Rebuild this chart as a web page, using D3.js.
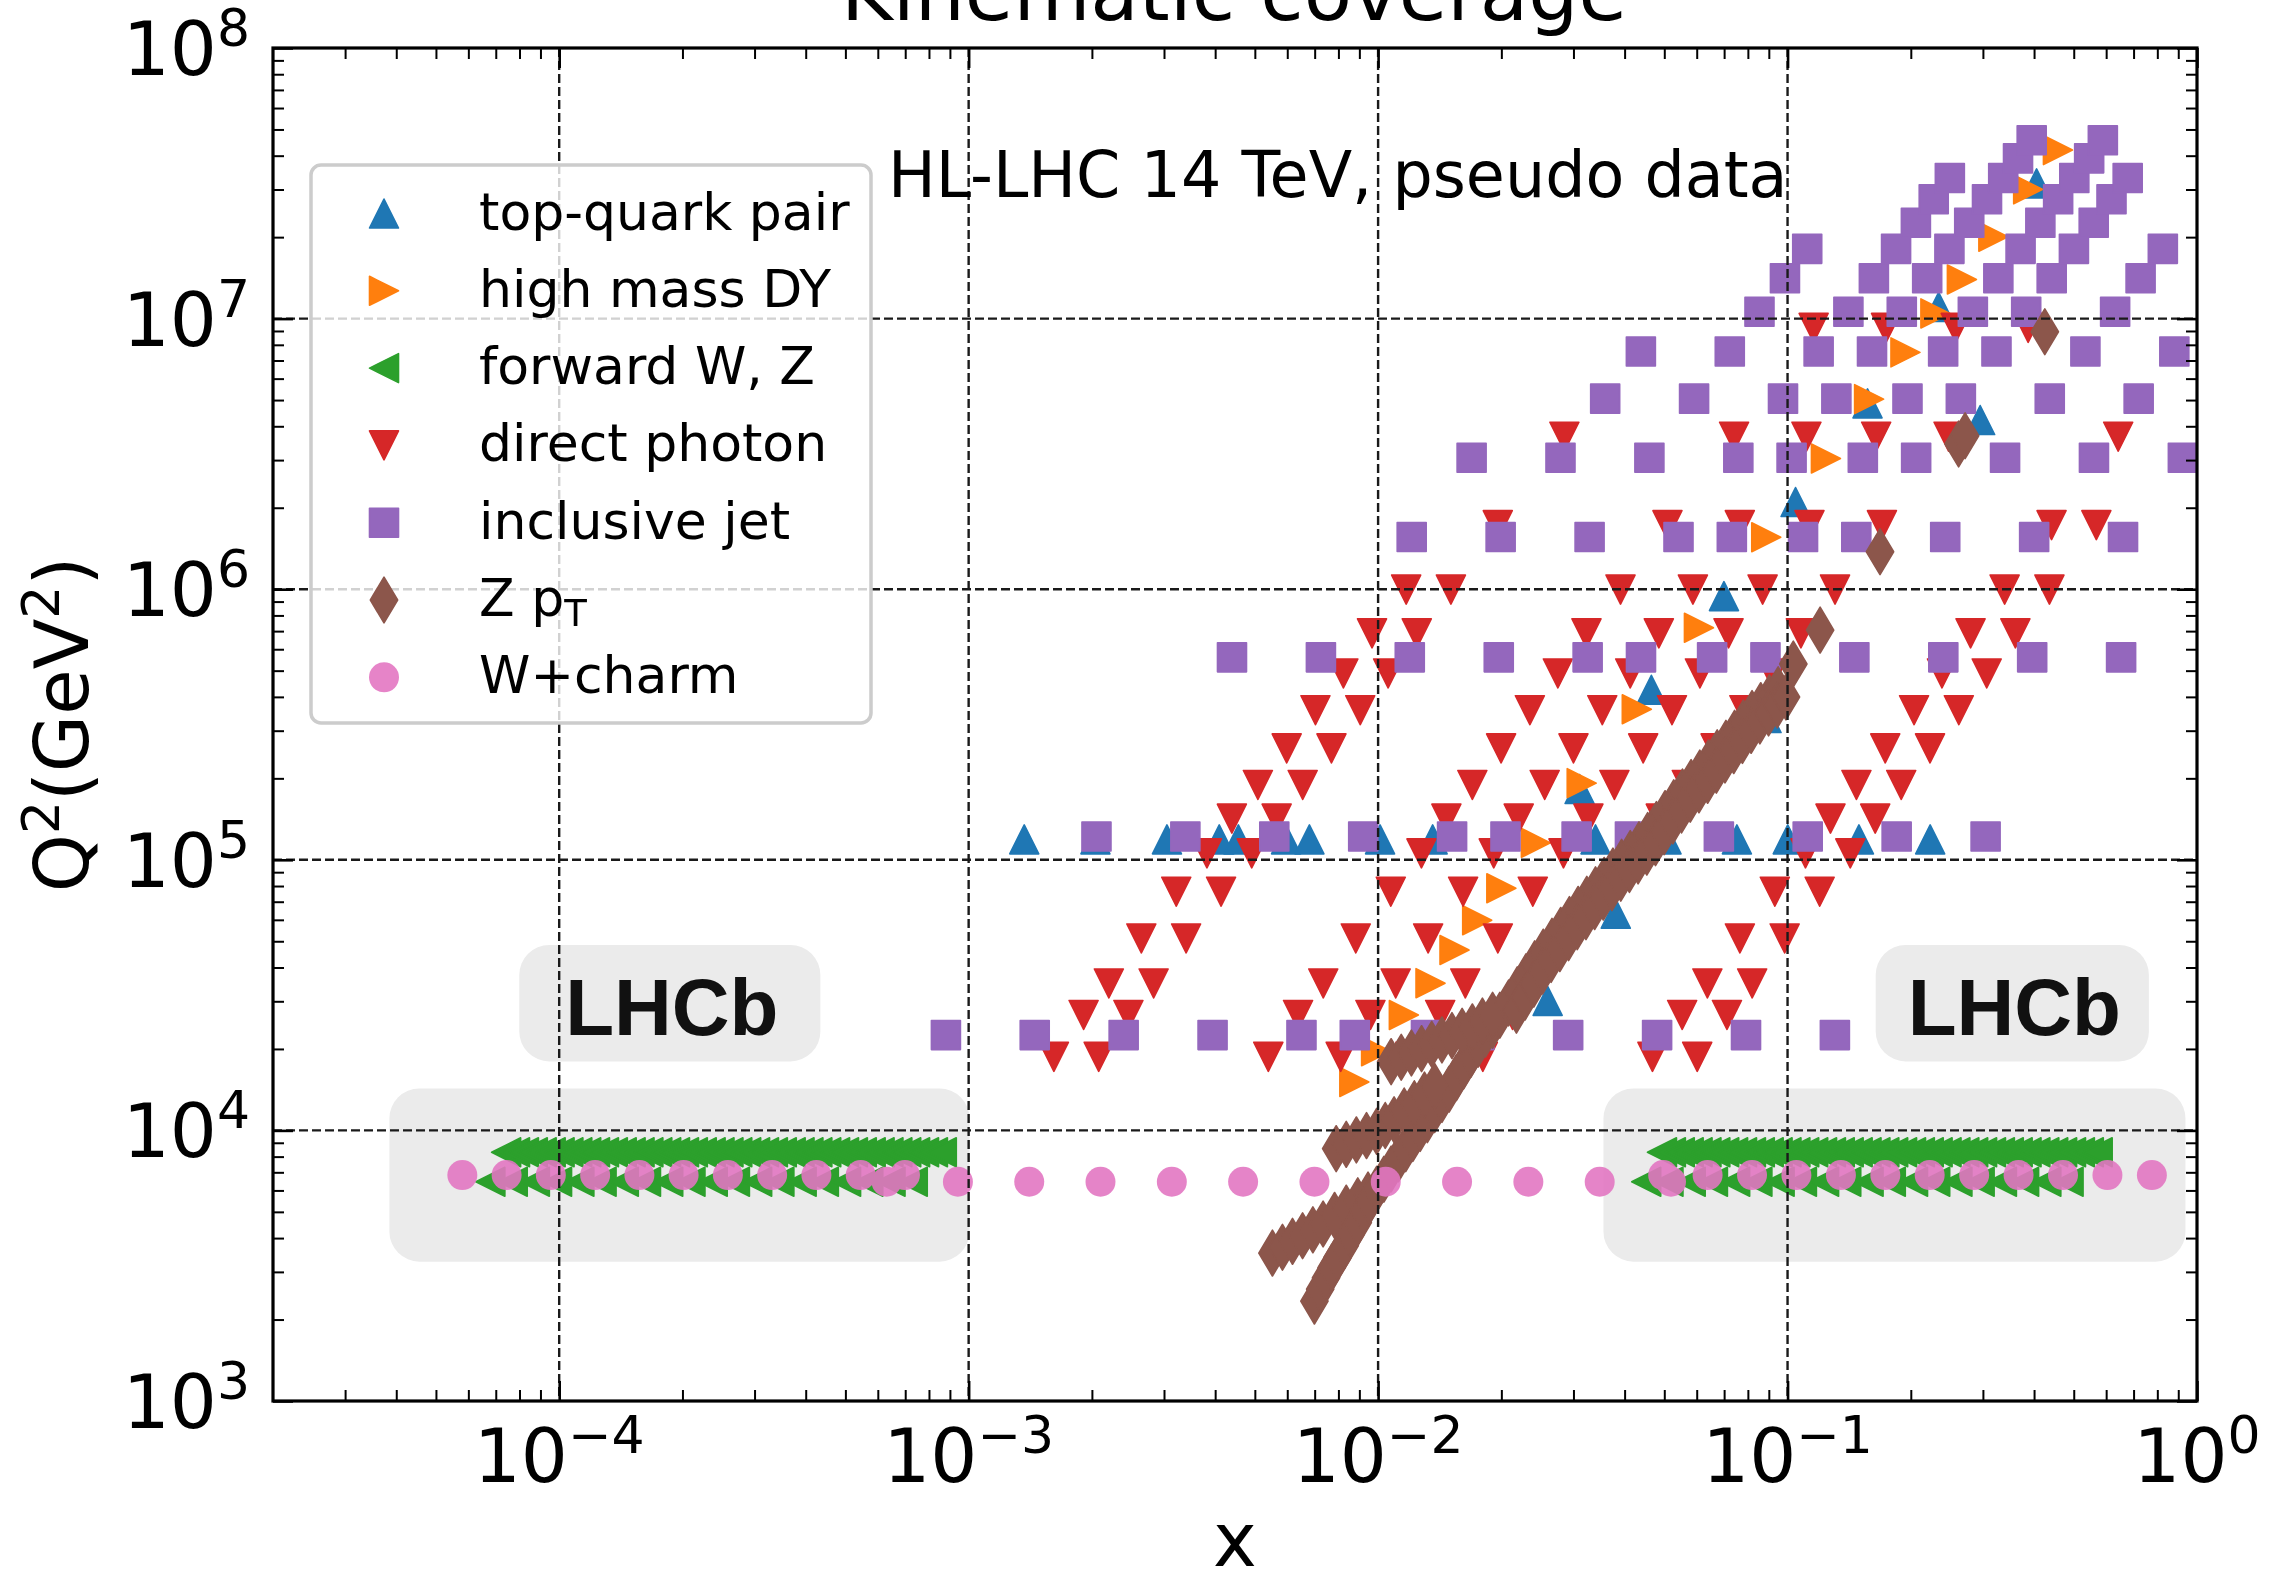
<!DOCTYPE html>
<html>
<head>
<meta charset="utf-8">
<script src="https://cdn.jsdelivr.net/npm/d3@7"></script>
<style>
  body { margin: 0; background: #fff; }
  text { font-family: "DejaVu Sans", sans-serif; }
</style>
</head>
<body>
<div id="container"></div>
<script>
// ---- data (x, Q^2 in GeV^2) ----

// top-quark pair
const ttbarRowQ2 = 1.19e5;
const ttbarRowX = [1.367e-3, 2.040e-3, 3.050e-3, 4.093e-3, 4.558e-3, 5.959e-3, 6.796e-3, 1.011e-2, 1.359e-2,
  3.396e-2, 5.063e-2, 7.521e-2, 0.1001, 0.1494, 0.2230];
const ttbarX = [2.595e-2, 3.806e-2, 3.105e-2, 4.649e-2, 6.993e-2, 8.886e-2, 0.1046, 0.1568, 0.2954, 0.2339, 0.4057];
const ttbarQ2 = [3.01e4, 6.32e4, 1.826e5, 4.25e5, 9.43e5, 3.34e5, 2.10e6, 4.86e6, 4.22e6, 1.105e7, 3.16e7];

// high mass DY
const dyX = [8.75e-3, 9.89e-3, 1.156e-2, 1.343e-2, 1.537e-2, 1.746e-2, 2.000e-2, 2.429e-2, 3.143e-2, 4.284e-2,
  6.076e-2, 8.872e-2, 0.1241, 0.1582, 0.1941, 0.2297, 0.2666, 0.3182, 0.3870, 0.4575];
const dyQ2 = [1.51e4, 1.96e4, 2.67e4, 3.50e4, 4.64e4, 5.98e4, 7.85e4, 1.155e5, 1.92e5, 3.60e5,
  7.20e5, 1.556e6, 3.04e6, 5.04e6, 7.50e6, 1.045e7, 1.395e7, 2.006e7, 3.003e7, 4.195e7];

// forward W, Z (LHCb)
const fwdZQ2 = 8.3e3;
const fwdZLowX = [7.42e-5, 7.80e-5, 8.20e-5, 8.62e-5, 9.06e-5, 9.53e-5, 1.002e-4, 1.053e-4, 1.107e-4, 1.164e-4,
  1.223e-4, 1.286e-4, 1.352e-4, 1.421e-4, 1.494e-4, 1.571e-4, 1.651e-4, 1.736e-4, 1.825e-4, 1.918e-4,
  2.017e-4, 2.120e-4, 2.229e-4, 2.343e-4, 2.463e-4, 2.590e-4, 2.722e-4, 2.862e-4, 3.009e-4, 3.163e-4,
  3.325e-4, 3.496e-4, 3.675e-4, 3.863e-4, 4.061e-4, 4.270e-4, 4.489e-4, 4.719e-4, 4.961e-4, 5.215e-4,
  5.482e-4, 5.763e-4, 6.059e-4, 6.369e-4, 6.696e-4, 7.039e-4, 7.400e-4, 7.780e-4, 8.179e-4, 8.598e-4];
const fwdZHighX = [0.04935, 0.05188, 0.05454, 0.05734, 0.06028, 0.06337, 0.06662, 0.07003, 0.07362, 0.07740,
  0.08137, 0.08554, 0.08992, 0.09453, 0.09938, 0.1045, 0.1098, 0.1155, 0.1214, 0.1276,
  0.1341, 0.1410, 0.1483, 0.1559, 0.1639, 0.1723, 0.1811, 0.1904, 0.2002, 0.2104,
  0.2212, 0.2325, 0.2445, 0.2570, 0.2702, 0.2840, 0.2986, 0.3139, 0.3300, 0.3469,
  0.3647, 0.3834, 0.4030, 0.4237, 0.4454, 0.4683, 0.4923, 0.5175, 0.5441, 0.5720];
const fwdWQ2 = 6.46e3;
const fwdWLowX = [6.79e-5, 7.70e-5, 8.72e-5, 9.88e-5, 1.120e-4, 1.269e-4, 1.438e-4, 1.629e-4, 1.846e-4, 2.092e-4,
  2.371e-4, 2.686e-4, 3.044e-4, 3.449e-4, 3.909e-4, 4.429e-4, 5.019e-4, 5.687e-4, 6.444e-4, 7.302e-4];
const fwdWHighX = [0.04517, 0.05118, 0.05800, 0.06572, 0.07447, 0.08439, 0.09562, 0.1084, 0.1228, 0.1391,
  0.1577, 0.1787, 0.2025, 0.2294, 0.2599, 0.2945, 0.3338, 0.3782, 0.4285, 0.4856];

// direct photon: one row of x values per Q^2 bin
const photonQ2 = [1.87e4, 2.67e4, 3.49e4, 5.12e4, 7.62e4, 1.056e5, 1.42e5, 1.89e5, 2.58e5, 3.57e5,
  4.88e5, 6.87e5, 9.97e5, 1.725e6, 3.66e6, 9.24e6];
const photonX = [
  [1.615e-3, 2.078e-3, 5.394e-3, 8.104e-3, 1.199e-2, 1.802e-2, 4.678e-2, 6.017e-2],
  [1.909e-3, 2.456e-3, 6.376e-3, 9.579e-3, 1.418e-2, 2.130e-2, 5.529e-2, 7.113e-2],
  [2.200e-3, 2.830e-3, 7.347e-3, 1.104e-2, 1.633e-2, 2.454e-2, 6.371e-2, 8.196e-2],
  [2.641e-3, 3.397e-3, 8.820e-3, 1.325e-2, 1.961e-2, 2.946e-2, 7.649e-2, 9.840e-2],
  [3.214e-3, 4.135e-3, 1.074e-2, 1.613e-2, 2.387e-2, 3.586e-2, 9.310e-2, 0.1198],
  [3.819e-3, 4.913e-3, 1.276e-2, 1.916e-2, 2.836e-2, 4.260e-2, 0.1106, 0.1423],
  [4.394e-3, 5.652e-3, 1.468e-2, 2.205e-2, 3.263e-2, 4.902e-2, 0.1273, 0.1637],
  [5.087e-3, 6.544e-3, 1.699e-2, 2.552e-2, 3.777e-2, 5.675e-2, 0.1473, 0.1895],
  [5.980e-3, 7.692e-3, 1.997e-2, 3.000e-2, 4.440e-2, 6.671e-2, 0.1732, 0.2228],
  [7.031e-3, 9.045e-3, 2.348e-2, 3.528e-2, 5.221e-2, 7.844e-2, 0.2037, 0.2620],
  [8.227e-3, 1.058e-2, 2.748e-2, 4.128e-2, 6.109e-2, 9.178e-2, 0.2383, 0.3065],
  [9.664e-3, 1.243e-2, 3.228e-2, 4.849e-2, 7.176e-2, 0.1078, 0.2799, 0.3601],
  [1.171e-2, 1.506e-2, 3.909e-2, 5.873e-2, 8.692e-2, 0.1306, 0.3390, 0.4361],
  [1.960e-2, 5.089e-2, 7.645e-2, 0.1131, 0.1700, 0.4413, 0.5677],
  [2.851e-2, 7.403e-2, 0.1112, 0.1646, 0.2473, 0.6420],
  [0.1158, 0.1740, 0.2575, 0.3869]
];

// inclusive jet: one row of x values per Q^2 bin
const jetQ2 = [2.25e4, 1.22e5, 5.6e5, 1.56e6, 3.06e6, 5.06e6, 7.56e6, 1.06e7, 1.41e7, 1.81e7,
  2.26e7, 2.76e7, 3.31e7, 3.91e7, 4.56e7];
const jetX = [
  [8.80e-4, 1.450e-3, 2.391e-3, 3.942e-3, 6.499e-3, 8.772e-3, 1.309e-2, 1.767e-2, 2.912e-2, 4.802e-2, 7.917e-2, 0.1305],
  [2.052e-3, 3.383e-3, 5.578e-3, 9.197e-3, 1.516e-2, 2.047e-2, 3.054e-2, 4.122e-2, 6.796e-2, 0.1120, 0.1847, 0.3046],
  [4.397e-3, 7.250e-3, 1.195e-2, 1.971e-2, 3.249e-2, 4.386e-2, 6.543e-2, 8.832e-2, 0.1456, 0.2401, 0.3958, 0.6526],
  [1.208e-2, 1.992e-2, 3.285e-2, 5.416e-2, 7.310e-2, 0.1091, 0.1472, 0.2427, 0.4002, 0.6597],
  [1.692e-2, 2.789e-2, 4.598e-2, 7.582e-2, 0.1023, 0.1527, 0.2061, 0.3398, 0.5602, 0.9236],
  [3.586e-2, 5.912e-2, 9.748e-2, 0.1316, 0.1963, 0.2650, 0.4369, 0.7203],
  [4.383e-2, 7.226e-2, 0.1191, 0.1608, 0.2399, 0.3238, 0.5339, 0.8803],
  [8.540e-2, 0.1408, 0.1901, 0.2835, 0.3827, 0.6310],
  [9.855e-2, 0.1625, 0.2193, 0.3272, 0.4417, 0.7282],
  [0.1117, 0.1841, 0.2485, 0.3708, 0.5005, 0.8252],
  [0.2058, 0.2778, 0.4144, 0.5594],
  [0.2275, 0.3070, 0.4580, 0.6183],
  [0.2491, 0.3363, 0.5016, 0.6772],
  [0.3655, 0.5453],
  [0.3947, 0.5889]
];

// Z pT  [x, Q^2]
const zptPoints = [
  [5.52e-3, 3.52e3], [5.84e-3, 3.70e3], [6.18e-3, 3.89e3], [6.54e-3, 4.08e3], [6.93e-3, 4.29e3],
  [7.34e-3, 4.51e3], [7.83e-3, 4.85e3], [8.36e-3, 5.16e3], [8.92e-3, 5.49e3], [9.45e-3, 5.77e3],
  [6.99e-3, 2.34e3], [7.22e-3, 2.59e3], [7.46e-3, 2.85e3], [7.70e-3, 3.11e3], [7.96e-3, 3.39e3],
  [8.29e-3, 3.75e3], [8.57e-3, 4.13e3], [8.92e-3, 4.56e3], [9.22e-3, 5.04e3], [9.52e-3, 5.49e3],
  [9.92e-3, 6.06e3], [1.033e-2, 6.60e3], [1.076e-2, 7.20e3], [1.121e-2, 7.85e3], [1.168e-2, 8.56e3],
  [1.216e-2, 9.33e3], [1.267e-2, 1.017e4], [1.319e-2, 1.095e4], [1.374e-2, 1.194e4], [1.432e-2, 1.302e4],
  [1.491e-2, 1.420e4], [1.553e-2, 1.567e4], [1.618e-2, 1.729e4], [1.685e-2, 1.909e4], [1.755e-2, 2.081e4],
  [1.828e-2, 2.269e4], [1.904e-2, 2.443e4], [1.983e-2, 2.664e4],
  [7.90e-3, 8.56e3], [8.36e-3, 8.88e3], [8.85e-3, 9.22e3], [9.37e-3, 9.57e3], [9.92e-3, 9.92e3],
  [1.041e-2, 1.043e4], [1.094e-2, 1.095e4], [1.158e-2, 1.180e4], [1.226e-2, 1.255e4], [1.298e-2, 1.351e4],
  [1.374e-2, 1.455e4],
  [1.076e-2, 1.795e4], [1.139e-2, 1.863e4], [1.206e-2, 1.932e4], [1.277e-2, 2.005e4], [1.352e-2, 2.081e4],
  [1.432e-2, 2.160e4], [1.515e-2, 2.241e4], [1.604e-2, 2.325e4], [1.699e-2, 2.413e4], [1.798e-2, 2.535e4],
  [1.904e-2, 2.664e4],
  [2.083e-2, 2.958e4], [2.187e-2, 3.307e4], [2.297e-2, 3.694e4], [2.412e-2, 4.127e4], [2.532e-2, 4.556e4],
  [2.659e-2, 4.998e4], [2.793e-2, 5.483e4], [2.933e-2, 6.016e4], [3.080e-2, 6.556e4], [3.234e-2, 7.146e4],
  [3.396e-2, 7.745e4], [3.566e-2, 8.393e4], [3.746e-2, 9.093e4], [3.933e-2, 9.793e4], [4.129e-2, 1.054e5],
  [4.337e-2, 1.136e5], [4.554e-2, 1.230e5], [4.783e-2, 1.350e5], [5.022e-2, 1.481e5], [5.273e-2, 1.624e5],
  [5.538e-2, 1.781e5], [5.814e-2, 1.930e5], [6.105e-2, 2.091e5], [6.412e-2, 2.280e5], [6.733e-2, 2.486e5],
  [7.071e-2, 2.694e5], [7.425e-2, 2.936e5], [7.798e-2, 3.201e5], [8.191e-2, 3.469e5], [8.601e-2, 3.712e5],
  [9.031e-2, 3.972e5], [9.484e-2, 4.252e5],
  [2.177e-2, 2.781e4], [2.285e-2, 3.109e4], [2.400e-2, 3.472e4], [2.521e-2, 3.879e4], [2.646e-2, 4.283e4],
  [2.779e-2, 4.698e4], [2.919e-2, 5.154e4], [3.065e-2, 5.655e4], [3.219e-2, 6.163e4], [3.380e-2, 6.717e4],
  [3.549e-2, 7.280e4], [3.726e-2, 7.889e4], [3.915e-2, 8.547e4], [4.110e-2, 9.205e4], [4.315e-2, 9.908e4],
  [4.532e-2, 1.068e5], [4.759e-2, 1.156e5], [4.998e-2, 1.269e5], [5.248e-2, 1.392e5], [5.510e-2, 1.527e5],
  [5.787e-2, 1.674e5], [6.076e-2, 1.814e5], [6.380e-2, 1.966e5], [6.701e-2, 2.143e5], [7.036e-2, 2.337e5],
  [7.389e-2, 2.532e5], [7.759e-2, 2.760e5], [8.149e-2, 3.009e5], [8.560e-2, 3.261e5], [8.988e-2, 3.489e5],
  [9.437e-2, 3.734e5], [9.911e-2, 3.997e5],
  [0.1033, 5.29e5], [0.1201, 7.06e5], [0.1682, 1.375e6], [0.2617, 3.44e6], [0.2714, 3.69e6], [0.4249, 8.94e6]
];

// W+charm
const wcUpperQ2 = 6.84e3;
const wcUpperX = [5.80e-5, 7.44e-5, 9.54e-5, 1.224e-4, 1.570e-4, 2.013e-4, 2.582e-4, 3.312e-4, 4.248e-4, 5.449e-4, 6.99e-4,
  0.04969, 0.06379, 0.08189, 0.1051, 0.1350, 0.1733, 0.2224, 0.2856, 0.3666, 0.4707, 0.6043, 0.7759];
const wcLowerQ2 = 6.46e3;
const wcLowerX = [6.304e-4, 9.414e-4, 1.406e-3, 2.099e-3, 3.135e-3, 4.681e-3, 6.991e-3, 1.044e-2, 1.559e-2,
  2.328e-2, 3.477e-2, 5.192e-2];

const xTickExps = [-4, -3, -2, -1, 0];
const yTickExps = [3, 4, 5, 6, 7, 8];

// ---- build series ----
const series = [
  { label: "top-quark pair", color: "#1f77b4", shape: "up",
    points: ttbarRowX.map(v => [v, ttbarRowQ2]).concat(ttbarX.map((v, i) => [v, ttbarQ2[i]])) },
  { label: "high mass DY", color: "#ff7f0e", shape: "right",
    points: dyX.map((v, i) => [v, dyQ2[i]]) },
  { label: "forward W, Z", color: "#2ca02c", shape: "left",
    points: fwdZLowX.concat(fwdZHighX).map(v => [v, fwdZQ2])
      .concat(fwdWLowX.concat(fwdWHighX).map(v => [v, fwdWQ2])) },
  { label: "direct photon", color: "#d62728", shape: "down",
    points: photonX.flatMap((row, i) => row.map(v => [v, photonQ2[i]])) },
  { label: "inclusive jet", color: "#9467bd", shape: "square",
    points: jetX.flatMap((row, i) => row.map(v => [v, jetQ2[i]])) },
  { label: "Z pT", color: "#8c564b", shape: "thinDiamond", points: zptPoints },
  { label: "W+charm", color: "#e377c2", shape: "circle", opacity: 0.9,
    points: wcUpperX.map(v => [v, wcUpperQ2]).concat(wcLowerX.map(v => [v, wcLowerQ2])) }
];

const S = 29;
const shapes = {
  up: s => `M0,${-s/2}L${s/2},${s/2}L${-s/2},${s/2}Z`,
  down: s => `M0,${s/2}L${-s/2},${-s/2}L${s/2},${-s/2}Z`,
  left: s => `M${-s/2},0L${s/2},${-s/2}L${s/2},${s/2}Z`,
  right: s => `M${s/2},0L${-s/2},${-s/2}L${-s/2},${s/2}Z`,
  square: s => `M${-s/2},${-s/2}h${s}v${s}h${-s}Z`,
  thinDiamond: s => `M0,${-s*0.79}L${s*0.47},0L0,${s*0.79}L${-s*0.47},0Z`,
  circle: s => d3.symbol(d3.symbolCircle, Math.PI * (s/2 + 0.5) ** 2)()
};

// ---- layout ----
const width = 2274, height = 1572;
const plot = { left: 273, right: 2197, top: 48, bottom: 1401 };

const svg = d3.select("#container").append("svg")
  .attr("width", width).attr("height", height)
  .style("display", "block");

svg.append("rect").attr("width", width).attr("height", height).attr("fill", "#fff");

const x = d3.scaleLog().domain([2e-5, 1]).range([plot.left, plot.right]);
const y = d3.scaleLog().domain([1e3, 1e8]).range([plot.bottom, plot.top]);

svg.append("clipPath").attr("id", "clip")
  .append("rect")
  .attr("x", plot.left).attr("y", plot.top)
  .attr("width", plot.right - plot.left).attr("height", plot.bottom - plot.top);

const fx = f => plot.left + f * (plot.right - plot.left);
const fy = f => plot.top + f * (plot.bottom - plot.top);

// LHCb shaded regions (axes fractions)
const lhcbBoxes = [
  { x0: 0.128, x1: 0.2845, y0: 0.663, y1: 0.749, text: true },
  { x0: 0.833, x1: 0.975, y0: 0.663, y1: 0.749, text: true },
  { x0: 0.0605, x1: 0.362, y0: 0.769, y1: 0.897 },
  { x0: 0.6915, x1: 0.994, y0: 0.769, y1: 0.897 }
];
const boxG = svg.append("g").attr("clip-path", "url(#clip)");
boxG.selectAll("rect").data(lhcbBoxes).join("rect")
  .attr("x", d => fx(d.x0)).attr("y", d => fy(d.y0))
  .attr("width", d => fx(d.x1) - fx(d.x0)).attr("height", d => fy(d.y1) - fy(d.y0))
  .attr("rx", 30).attr("ry", 30)
  .attr("fill", "#ebebeb");

// markers
const markG = svg.append("g").attr("clip-path", "url(#clip)");
series.forEach(s => {
  markG.append("g")
    .attr("opacity", s.opacity || 1)
    .selectAll("path").data(s.points).join("path")
    .attr("transform", d => `translate(${x(d[0])},${y(d[1])})`)
    .attr("d", shapes[s.shape](S))
    .attr("fill", s.color)
    .attr("stroke", s.shape === "circle" ? "none" : s.color)
    .attr("stroke-width", 1.6)
    .attr("stroke-linejoin", "round");
});

// grid (on top of markers)
const gridG = svg.append("g")
  .attr("stroke", "#1a1a1a").attr("stroke-width", 2.4).attr("stroke-dasharray", "9,4");
xTickExps.filter(e => e < 0).forEach(e => {
  gridG.append("line").attr("x1", x(10 ** e)).attr("x2", x(10 ** e))
    .attr("y1", plot.top).attr("y2", plot.bottom);
});
yTickExps.filter(e => e > 3 && e < 8).forEach(e => {
  gridG.append("line").attr("y1", y(10 ** e)).attr("y2", y(10 ** e))
    .attr("x1", plot.left).attr("x2", plot.right);
});

// LHCb labels
svg.append("g").selectAll("text").data(lhcbBoxes.filter(d => d.text)).join("text")
  .attr("x", d => (fx(d.x0) + fx(d.x1)) / 2 + 2)
  .attr("y", 1035)
  .attr("text-anchor", "middle")
  .style("font-family", "'Liberation Sans', Arial, sans-serif")
  .style("font-weight", "bold")
  .style("font-size", "80px")
  .attr("fill", "#111")
  .text("LHCb");

// ticks (inside, all four sides)
const minorVals = (lo, hi) => {
  const out = [];
  for (let k = lo; k < hi; k++) for (let m = 2; m <= 9; m++) out.push(m * 10 ** k);
  return out;
};
const xMajor = xTickExps.map(e => 10 ** e);
const yMajor = yTickExps.map(e => 10 ** e);
const xMinor = minorVals(-5, 0).filter(v => v > 2e-5 && v < 1);
const yMinor = minorVals(3, 8);

const axisSpecs = [
  { axis: d3.axisBottom(x), t: `translate(0,${plot.bottom})`, major: xMajor, minor: xMinor },
  { axis: d3.axisTop(x), t: `translate(0,${plot.top})`, major: xMajor, minor: xMinor },
  { axis: d3.axisLeft(y), t: `translate(${plot.left},0)`, major: yMajor, minor: yMinor },
  { axis: d3.axisRight(y), t: `translate(${plot.right},0)`, major: yMajor, minor: yMinor }
];
axisSpecs.forEach(a => {
  const gMaj = svg.append("g").attr("transform", a.t)
    .call(a.axis.tickValues(a.major).tickSize(-20).tickFormat(""));
  gMaj.select(".domain").remove();
  gMaj.selectAll("line").attr("stroke", "#000").attr("stroke-width", 2.6);
  const gMin = svg.append("g").attr("transform", a.t)
    .call(a.axis.tickValues(a.minor).tickSize(-11).tickFormat(""));
  gMin.select(".domain").remove();
  gMin.selectAll("line").attr("stroke", "#000").attr("stroke-width", 2);
});

// frame
svg.append("rect")
  .attr("x", plot.left).attr("y", plot.top)
  .attr("width", plot.right - plot.left).attr("height", plot.bottom - plot.top)
  .attr("fill", "none").attr("stroke", "#000").attr("stroke-width", 3.2);

// tick labels
const fmtExp = e => (e < 0 ? "\u2212" : "") + Math.abs(e);
xTickExps.forEach(e => {
  const t = svg.append("text")
    .attr("x", x(10 ** e)).attr("y", 1482)
    .attr("text-anchor", "middle").style("font-size", "74px").attr("fill", "#000");
  t.append("tspan").text("10");
  t.append("tspan").attr("dy", -29).style("font-size", "52px").text(fmtExp(e));
});
yTickExps.forEach(e => {
  const t = svg.append("text")
    .attr("x", 250).attr("y", y(10 ** e) + 27)
    .attr("text-anchor", "end").style("font-size", "74px").attr("fill", "#000");
  t.append("tspan").text("10");
  t.append("tspan").attr("dy", -29).style("font-size", "52px").text(fmtExp(e));
});

// axis labels
svg.append("text")
  .attr("x", (plot.left + plot.right) / 2).attr("y", 1566)
  .attr("text-anchor", "middle").style("font-size", "74px").text("x");

const yl = svg.append("text")
  .attr("transform", `translate(88,${(plot.top + plot.bottom) / 2}) rotate(-90)`)
  .attr("text-anchor", "middle").style("font-size", "74px");
yl.append("tspan").text("Q");
yl.append("tspan").attr("dy", -29).style("font-size", "52px").text("2");
yl.append("tspan").attr("dy", 29).text("(GeV");
yl.append("tspan").attr("dy", -29).style("font-size", "52px").text("2");
yl.append("tspan").attr("dy", 29).text(")");

// title (cropped at the top in the original)
svg.append("text")
  .attr("x", 1234).attr("y", 20)
  .attr("text-anchor", "middle").style("font-size", "79px").text("Kinematic coverage");

// annotation
svg.append("text")
  .attr("x", 888).attr("y", 197)
  .style("font-size", "63.5px").text("HL-LHC 14 TeV, pseudo data");

// legend
const legend = svg.append("g");
legend.append("rect")
  .attr("x", 311).attr("y", 165).attr("width", 560).attr("height", 558)
  .attr("rx", 10).attr("ry", 10)
  .attr("fill", "#fff").attr("fill-opacity", 0.8)
  .attr("stroke", "#cccccc").attr("stroke-width", 3.5);

series.forEach((s, i) => {
  const cy = 213.5 + i * 77.3;
  legend.append("path")
    .attr("transform", `translate(384,${cy})`)
    .attr("d", shapes[s.shape](S))
    .attr("fill", s.color)
    .attr("opacity", s.opacity || 1)
    .attr("stroke", s.shape === "circle" ? "none" : s.color)
    .attr("stroke-width", 1.6)
    .attr("stroke-linejoin", "round");
  const t = legend.append("text")
    .attr("x", 479).attr("y", cy + 16)
    .style("font-size", "52px").attr("fill", "#000");
  if (s.label === "Z pT") {
    t.append("tspan").text("Z p");
    t.append("tspan").attr("dy", 10).style("font-size", "37px").text("T");
  } else {
    t.text(s.label);
  }
});
</script>
</body>
</html>
